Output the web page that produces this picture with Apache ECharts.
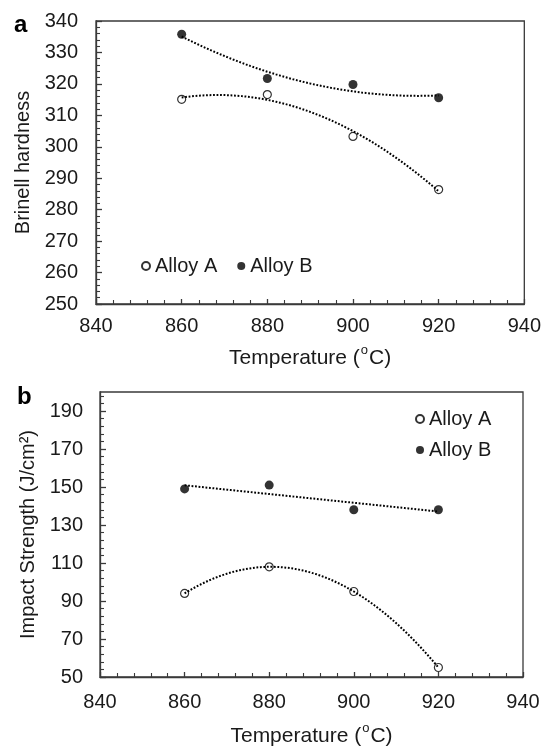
<!DOCTYPE html>
<html>
<head>
<meta charset="utf-8">
<script src="https://cdn.jsdelivr.net/npm/echarts@6/dist/echarts.min.js"></script>
<style>
html,body{margin:0;padding:0;background:#fff;}
#chart{width:544px;height:748px;}
</style>
</head>
<body>
<div id="chart"></div>
<script>
// ---- data ----
const temps = [860, 880, 900, 920];
const hardnessA = [315.1, 316.6, 303.3, 286.4];
const hardnessB = [335.8, 321.7, 319.8, 315.6];
const impactA = [94, 108, 95, 55];
const impactB = [149, 151, 138, 138];
const impactLabels = [50, 70, 90, 110, 130, 150, 170, 190];
const seriesNames = ['Alloy A', 'Alloy B'];

// least-squares polynomial trendline (as in the spreadsheet's fitted curves)
function polyfit(xs, ys, deg) {
  const xm = xs.reduce((a, b) => a + b, 0) / xs.length;
  const n = deg + 1;
  const A = [], b = [];
  for (let i = 0; i < n; i++) {
    A.push([]);
    for (let j = 0; j < n; j++) {
      A[i].push(xs.reduce((s, x) => s + Math.pow(x - xm, i + j), 0));
    }
    b.push(xs.reduce((s, x, k) => s + ys[k] * Math.pow(x - xm, i), 0));
  }
  for (let c = 0; c < n; c++) {
    let p = c;
    for (let r = c + 1; r < n; r++) if (Math.abs(A[r][c]) > Math.abs(A[p][c])) p = r;
    [A[c], A[p]] = [A[p], A[c]]; [b[c], b[p]] = [b[p], b[c]];
    for (let r = 0; r < n; r++) {
      if (r === c) continue;
      const f = A[r][c] / A[c][c];
      for (let k = c; k < n; k++) A[r][k] -= f * A[c][k];
      b[r] -= f * b[c];
    }
  }
  const coef = b.map((v, i) => v / A[i][i]);
  return x => coef.reduce((s, c, i) => s + c * Math.pow(x - xm, i), 0);
}
function trend(xs, ys, deg) {
  const f = polyfit(xs, ys, deg);
  const out = [];
  for (let x = xs[0]; x <= xs[xs.length - 1] + 1e-9; x += 1) out.push([x, f(x)]);
  return out;
}
const pairs = (xs, ys) => xs.map((x, i) => [x, ys[i]]);

const FONT = "'Liberation Sans', Arial, sans-serif";
const TXT = '#1a1a1a';
const AX = '#3a3a3a';
const dotted = { color: '#000', width: 2, type: [1.8, 1.7] };

const minorBottom = [];
for (let v = 54; v < 200; v += 4) if ((v - 50) % 20 !== 0) minorBottom.push(v);

const xAxisBase = (gi, nameGap, margin) => ({
  type: 'value', gridIndex: gi, min: 840, max: 940, interval: 20,
  axisLine: { show: true, lineStyle: { color: AX, width: 1.3 } },
  axisTick: { show: true, inside: true, length: 5, lineStyle: { color: AX, width: 1.3 } },
  minorTick: { show: true, splitNumber: 5, length: 4, lineStyle: { color: AX, width: 1.1 } },
  splitLine: { show: false },
  axisLabel: { color: TXT, fontSize: 20, fontFamily: FONT, margin: margin },
  name: '{n|Temperature (}{s|o}{n|C)}', nameLocation: 'middle', nameGap: nameGap,
  nameTextStyle: {
    rich: {
      n: { fontSize: 21, fontFamily: FONT, color: TXT, lineHeight: 25, verticalAlign: 'bottom' },
      s: { fontSize: 13, fontFamily: FONT, color: TXT, lineHeight: 25, verticalAlign: 'top', padding: [0, 1, 0, 1] }
    }
  }
});

const chart = echarts.init(document.getElementById('chart'), null, { renderer: 'canvas' });
chart.setOption({
  backgroundColor: '#fff',
  animation: false,
  textStyle: { fontFamily: FONT },
  graphic: [
    { type: 'text', left: 14, top: 13, style: { text: 'a', fontSize: 24, fontWeight: 'bold', fontFamily: FONT, fill: '#000' } },
    { type: 'text', left: 17, top: 385, style: { text: 'b', fontSize: 24, fontWeight: 'bold', fontFamily: FONT, fill: '#000' } }
  ],
  grid: [
    { left: 96, right: 17, top: 21, height: 283, show: true, borderColor: AX, borderWidth: 1.3, backgroundColor: 'transparent' },
    { left: 100, right: 21, top: 392, height: 287, show: true, borderColor: AX, borderWidth: 1.3, backgroundColor: 'transparent' }
  ],
  legend: [
    {
      data: seriesNames, left: 136, top: 251, orient: 'horizontal', itemGap: 20,
      itemWidth: 8, itemHeight: 8, icon: 'circle',
      textStyle: { fontSize: 20, color: TXT, fontFamily: FONT }
    },
    {
      data: seriesNames, left: 410, top: 404, orient: 'vertical', itemGap: 11,
      itemWidth: 8, itemHeight: 8, icon: 'circle',
      textStyle: { fontSize: 20, color: TXT, fontFamily: FONT }
    }
  ],
  xAxis: [xAxisBase(0, 40, 12), xAxisBase(1, 45, 15)],
  yAxis: [
    {
      type: 'value', gridIndex: 0, min: 250, max: 340, interval: 10,
      axisLine: { show: true, lineStyle: { color: AX, width: 1.3 } },
      axisTick: { show: true, inside: true, length: 6, lineStyle: { color: AX, width: 1.3 } },
      minorTick: { show: true, splitNumber: 5, length: 4, lineStyle: { color: AX, width: 1.1 } },
      splitLine: { show: false },
      axisLabel: { color: TXT, fontSize: 20, fontFamily: FONT, margin: 18 },
      name: 'Brinell hardness', nameLocation: 'middle', nameGap: 62,
      nameTextStyle: { fontSize: 20, color: TXT, fontFamily: FONT }
    },
    {
      type: 'value', gridIndex: 1, min: 50, max: 200,
      axisLine: { show: true, lineStyle: { color: AX, width: 1.3 } },
      axisTick: { show: true, inside: true, length: 6, customValues: impactLabels, lineStyle: { color: AX, width: 1.3 } },
      splitLine: { show: false },
      axisLabel: { color: TXT, fontSize: 20, fontFamily: FONT, margin: 17, customValues: impactLabels },
      name: 'Impact Strength (J/cm²)', nameLocation: 'middle', nameGap: 61,
      nameTextStyle: { fontSize: 20, color: TXT, fontFamily: FONT }
    },
    {
      type: 'value', gridIndex: 1, min: 50, max: 200, position: 'left', offset: 0,
      axisLine: { show: false },
      axisTick: { show: true, inside: true, length: 4, customValues: minorBottom, lineStyle: { color: AX, width: 1.1 } },
      axisLabel: { show: false },
      splitLine: { show: false }
    }
  ],
  series: [
    { name: 'trend A a', type: 'line', xAxisIndex: 0, yAxisIndex: 0, data: trend(temps, hardnessA, 2), symbol: 'none', lineStyle: dotted, silent: true, z: 1 },
    { name: 'trend B a', type: 'line', xAxisIndex: 0, yAxisIndex: 0, data: trend(temps, hardnessB, 2), symbol: 'none', lineStyle: dotted, silent: true, z: 1 },
    { name: 'trend A b', type: 'line', xAxisIndex: 1, yAxisIndex: 1, data: trend(temps, impactA, 2), symbol: 'none', lineStyle: dotted, silent: true, z: 1 },
    { name: 'trend B b', type: 'line', xAxisIndex: 1, yAxisIndex: 1, data: trend(temps, impactB, 1), symbol: 'none', lineStyle: dotted, silent: true, z: 1 },
    { name: 'Alloy A', type: 'scatter', xAxisIndex: 0, yAxisIndex: 0, data: pairs(temps, hardnessA), symbol: 'circle', symbolSize: 8,
      itemStyle: { color: 'rgba(255,255,255,0)', borderColor: '#000', borderWidth: 1.2 }, z: 3 },
    { name: 'Alloy B', type: 'scatter', xAxisIndex: 0, yAxisIndex: 0, data: pairs(temps, hardnessB), symbol: 'circle', symbolSize: 9,
      itemStyle: { color: '#000' }, z: 3 },
    { name: 'Alloy A', type: 'scatter', xAxisIndex: 1, yAxisIndex: 1, data: pairs(temps, impactA), symbol: 'circle', symbolSize: 8,
      itemStyle: { color: 'rgba(255,255,255,0)', borderColor: '#000', borderWidth: 1.2 }, z: 3 },
    { name: 'Alloy B', type: 'scatter', xAxisIndex: 1, yAxisIndex: 1, data: pairs(temps, impactB), symbol: 'circle', symbolSize: 9,
      itemStyle: { color: '#000' }, z: 3 }
  ]
});
</script>
</body>
</html>
